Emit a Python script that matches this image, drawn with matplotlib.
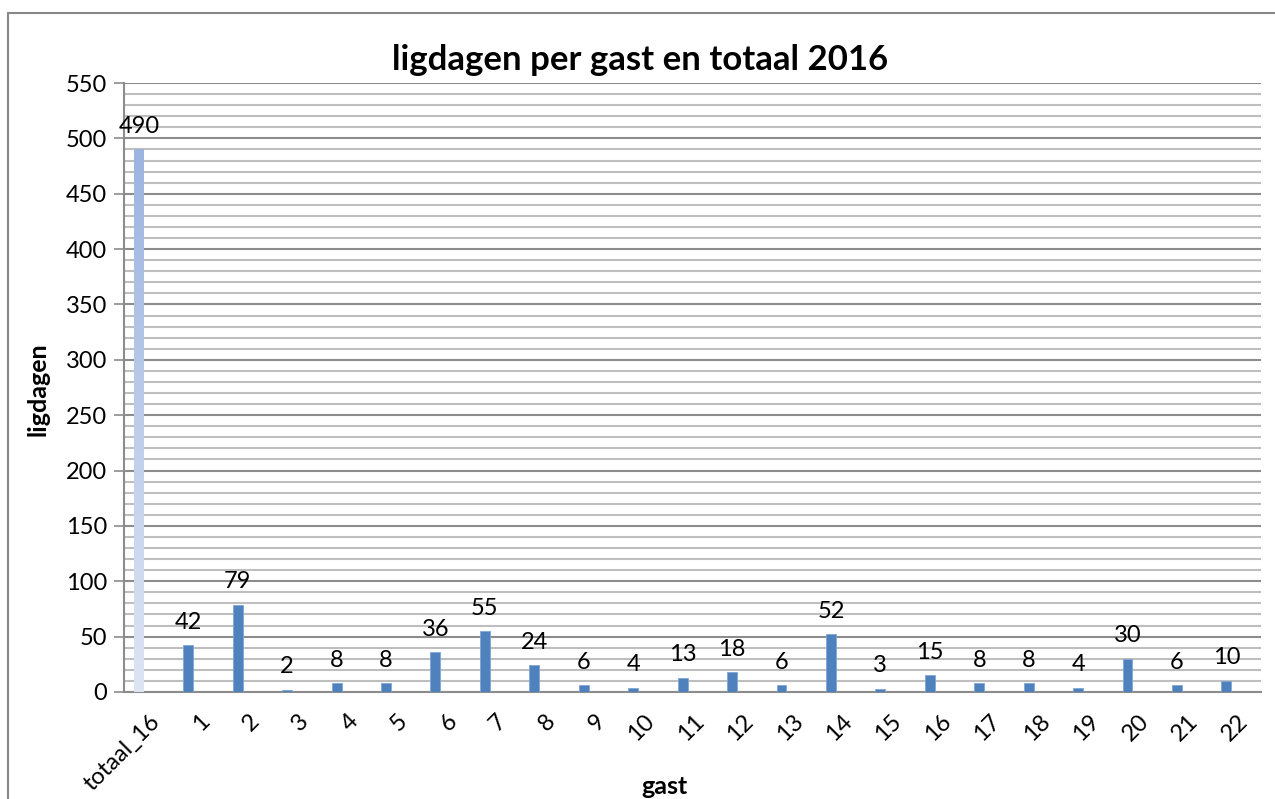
import matplotlib
matplotlib.use("Agg")
import matplotlib.pyplot as plt
from matplotlib.patches import Rectangle
from matplotlib.colors import LinearSegmentedColormap
import matplotlib.transforms as mtransforms
import numpy as np

categories = ["totaal_16"] + [str(i) for i in range(1, 23)]
values = [490, 42, 79, 2, 8, 8, 36, 55, 24, 6, 4, 13, 18, 6, 52, 3, 15, 8, 8, 4, 30, 6, 10]
title = "ligdagen per gast en totaal 2016"
ylabel = "ligdagen"
xlabel = "gast"

plt.rcParams['font.family'] = ['Lato', 'DejaVu Sans']

fig = plt.figure(figsize=(12.75, 7.99), dpi=100)
ax = fig.add_axes([124/1275, 1-692/799, (1261-124)/1275, (692-83)/799])

x = np.arange(len(categories))
bars = ax.bar(x, values, width=0.2, color='#4F81BD', edgecolor='#7EA6D8', linewidth=0.6, zorder=3)

# gradient for the total bar
b0 = bars[0]
b0.set_facecolor('none')
b0.set_edgecolor('none')
grad = np.linspace(0, 1, 256).reshape(-1, 1)
cmap = LinearSegmentedColormap.from_list('g', ['#DDE5F4', '#9CB4E0'])
im = ax.imshow(grad, cmap=cmap, origin='lower', aspect='auto',
               extent=[b0.get_x(), b0.get_x() + b0.get_width(), 0, values[0]], zorder=3)
im.set_clip_path(b0)

ax.set_xlim(-0.3, len(categories) - 0.3)
ax.set_ylim(0, 550)
ax.set_yticks(np.arange(0, 551, 50))
ax.set_yticks(np.arange(0, 551, 10), minor=True)
ax.yaxis.grid(True, which='major', color='#8C8C8C', linewidth=1.5, zorder=0)
ax.yaxis.grid(True, which='minor', color='#BEBEBE', linewidth=1.5, zorder=0)
ax.tick_params(axis='y', which='major', length=7, color='#8C8C8C', width=1.2, labelsize=17, pad=5)
ax.tick_params(axis='y', which='minor', length=0)
ax.set_xticks(x)
ax.set_xticklabels(categories, rotation=45, ha='right', va='center', rotation_mode='anchor', fontsize=17)
ax.tick_params(axis='x', length=0, pad=0)
offset = mtransforms.ScaledTranslation(18/100, -26/100, fig.dpi_scale_trans)
for lbl in ax.get_xticklabels():
    lbl.set_transform(lbl.get_transform() + offset)

for s in ['top', 'right']:
    ax.spines[s].set_visible(False)
for s in ['left', 'bottom']:
    ax.spines[s].set_color('#8C8C8C')
    ax.spines[s].set_linewidth(1.5)

for xi, v in zip(x, values):
    ax.annotate(str(v), (xi, v), xytext=(0, 9), textcoords='offset points',
                ha='center', va='bottom', fontsize=17)

fig.text(640/1275, 1-60/799, title, ha='center', va='center', fontsize=25, fontweight='bold')
fig.text(38/1275, 1-389/799, ylabel, ha='center', va='center', rotation=90, fontsize=18, fontweight='bold')
fig.text(664/1275, 1-786/799, xlabel, ha='center', va='center', fontsize=18, fontweight='bold')

fig.patches.append(Rectangle((8/1275, -0.05), 1.1, 1-13/799 + 0.05, transform=fig.transFigure,
                             fill=False, edgecolor='#888888', linewidth=1.5))

fig.savefig('out.png', dpi=100)
